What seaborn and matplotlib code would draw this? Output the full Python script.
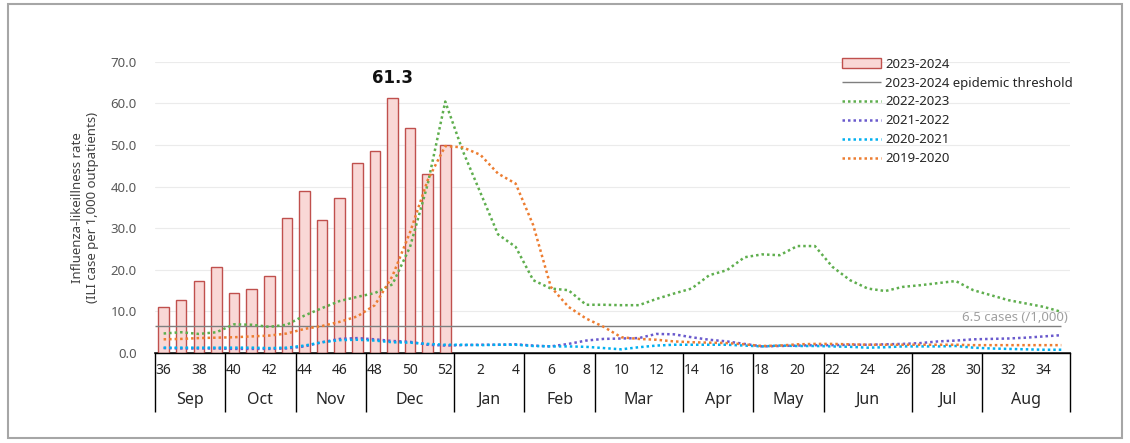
import numpy as np
import pandas as pd
import seaborn as sns
import matplotlib.pyplot as plt
from matplotlib.patches import Rectangle

# week axis: 36..52 then 1..35
weeks = list(range(36, 53)) + list(range(1, 36))
months = ['Sep', 'Oct', 'Nov', 'Dec', 'Jan', 'Feb', 'Mar', 'Apr', 'May', 'Jun', 'Jul', 'Aug']
month_weeks = [4, 4, 4, 5, 4, 4, 5, 4, 4, 5, 4, 5]

# 2023-2024 season (weeks 36-52)
rate_2324 = [11.1, 12.8, 17.3, 20.6, 14.4, 15.5, 18.5, 32.5, 39.0, 32.0, 37.2, 45.7, 48.6, 61.3, 54.0, 43.1, 49.9]
threshold = 6.5

rate_2223 = [4.7, 5.0, 4.6, 5.0, 6.9, 6.8, 6.3, 6.8, 9.0, 10.8, 12.5, 13.5, 14.4, 16.5, 25.5, 40.5, 60.4,
             48.5, 38.5, 28.5, 25.5, 17.5, 15.5, 15.1, 11.6, 11.6, 11.5, 11.5, 13.0, 14.3, 15.5, 18.7, 19.9,
             23.0, 23.7, 23.5, 25.7, 25.7, 20.7, 17.5, 15.5, 14.9, 15.9, 16.3, 16.8, 17.3, 15.1, 13.9, 12.7,
             11.9, 11.1, 9.9]
rate_2122 = [1.2, 1.1, 1.1, 1.1, 1.0, 1.0, 1.0, 1.1, 1.6, 2.6, 3.4, 3.6, 3.3, 2.9, 2.7, 2.0, 1.8,
             1.9, 2.0, 2.0, 2.1, 1.8, 1.6, 2.2, 3.0, 3.4, 3.5, 3.6, 4.6, 4.5, 3.8, 3.2, 2.8,
             2.2, 1.6, 1.7, 1.8, 1.9, 1.9, 2.0, 2.0, 2.1, 2.2, 2.4, 2.8, 3.0, 3.3, 3.4, 3.5,
             3.7, 4.0, 4.3]
rate_2021 = [1.3, 1.3, 1.3, 1.3, 1.3, 1.3, 1.2, 1.3, 1.8, 2.6, 3.1, 3.2, 3.0, 2.6, 2.5, 2.2, 2.0,
             2.0, 1.9, 2.0, 2.0, 1.7, 1.6, 1.6, 1.5, 1.2, 0.9, 1.4, 1.8, 2.0, 2.0, 2.0, 2.0,
             1.8, 1.6, 1.8, 1.7, 1.7, 1.6, 1.5, 1.3, 1.4, 1.6, 1.6, 1.6, 1.7, 1.3, 1.1, 1.0,
             0.9, 0.8, 0.8]
rate_1920 = [3.3, 3.4, 3.6, 3.7, 3.8, 4.0, 4.2, 4.7, 5.8, 6.5, 7.5, 8.8, 11.5, 18.5, 29.0, 41.5, 49.7,
             49.4, 47.6, 43.1, 40.7, 30.7, 15.9, 11.1, 8.3, 6.3, 3.8, 3.4, 3.2, 2.8, 2.6, 2.5, 2.4,
             2.1, 1.7, 1.8, 2.1, 2.2, 2.2, 2.1, 2.0, 2.0, 2.0, 2.0, 2.0, 2.0, 1.9, 1.9, 1.9,
             1.9, 1.9, 1.9]

seasons = ['2022-2023', '2021-2022', '2020-2021', '2019-2020']
season_rates = [rate_2223, rate_2122, rate_2021, rate_1920]
season_colors = ['#5FAE4E', '#6A5ACD', '#00B0F0', '#ED7D31']

sns.set_theme(style='white')
plt.rcParams['font.family'] = ['Noto Sans', 'DejaVu Sans']

fig, ax = plt.subplots(figsize=(11.3, 4.43), dpi=100)
fig.subplots_adjust(left=0.137, right=0.947, bottom=0.203, top=0.861)

idx = np.arange(len(weeks))
df_bar = pd.DataFrame({'idx': idx[:len(rate_2324)], 'rate': rate_2324})
sns.barplot(data=df_bar, x='idx', y='rate', color='#F9D8D6', edgecolor='#C0504D',
            linewidth=1, width=0.6, saturation=1, ax=ax, label='2023-2024')

ax.hlines(threshold, -0.5, len(weeks) - 1, color='#7F7F7F', lw=1, label='2023-2024 epidemic threshold')

for name, vals, col in zip(seasons, season_rates, season_colors):
    sns.lineplot(x=idx, y=vals, color=col, linestyle=(0, (1, 1.2)), linewidth=1.8, ax=ax, label=name)

# peak label
peak = int(np.argmax(rate_2324))
ax.annotate(f'{rate_2324[peak]:.1f}', (peak, rate_2324[peak]), xytext=(0, 8),
            textcoords='offset points', ha='center', va='bottom',
            fontsize=12, fontweight='bold', family=['DejaVu Sans'], color='#111111',
            annotation_clip=False)

ax.text(len(weeks) - 0.6, threshold + 0.6, '6.5 cases (/1,000)', ha='right', va='bottom',
        fontsize=9.5, color='#A0A0A0')

# y axis
ax.set_ylim(0, 70)
ax.set_yticks(range(0, 71, 10))
ax.set_yticklabels([f'{v:.1f}' for v in range(0, 71, 10)])
ax.tick_params(axis='y', length=0, pad=13, labelsize=9.5, labelcolor='#595959')
ax.set_ylabel('Influenza-likeillness rate\n(ILI case per 1,000 outpatients)',
              fontsize=9.5, color='#404040', labelpad=8)
ax.yaxis.grid(True, color='#EBEBEB', lw=0.8)
ax.set_axisbelow(True)
for s in ['left', 'right', 'top']:
    ax.spines[s].set_visible(False)
ax.spines['bottom'].set_color('black')
ax.spines['bottom'].set_linewidth(1)

# x axis: week numbers
ax.set_xlim(-0.5, len(weeks) - 0.5)
even_pos = [i for i, w in enumerate(weeks) if w % 2 == 0]
ax.set_xticks(even_pos)
ax.set_xticklabels([str(weeks[i]) for i in even_pos])
ax.set_xticks(np.arange(-0.5, len(weeks), 1), minor=True)
ax.tick_params(axis='x', which='major', length=0, pad=7, labelsize=10, labelcolor='#262626')
ax.tick_params(axis='x', which='minor', length=19.4, width=1, color='black', direction='out')
ax.set_xlabel('')

# month row
bounds = np.concatenate([[0], np.cumsum(month_weeks)]) - 0.5
centers = (bounds[:-1] + bounds[1:]) / 2
sec = ax.secondary_xaxis('bottom')
sec.set_xticks(bounds, labels=[''] * len(bounds))
sec.set_xticks(centers, labels=months, minor=True)
sec.tick_params(which='major', length=42.5, width=1, color='black')
sec.tick_params(which='minor', length=0, pad=28, labelsize=11.5, labelcolor='#262626')

# legend
order = ['2023-2024', '2023-2024 epidemic threshold'] + seasons
h, l = ax.get_legend_handles_labels()
hmap = dict(zip(l, h))
ax.legend([hmap[k] for k in order], order, loc='upper left',
          bbox_to_anchor=(835 / 1130, 1 - 51 / 443), bbox_transform=fig.transFigure,
          frameon=False, borderpad=0, handlelength=3.0, handletextpad=0.3,
          labelspacing=0.45, fontsize=9.5, labelcolor='#262626')

fig.patches.append(Rectangle((8 / 1130, 5 / 443), 1114 / 1130, 434 / 443, transform=fig.transFigure,
                             fill=False, edgecolor='#A6A6A6', lw=1.5))

fig.savefig('out.png', dpi=100)
